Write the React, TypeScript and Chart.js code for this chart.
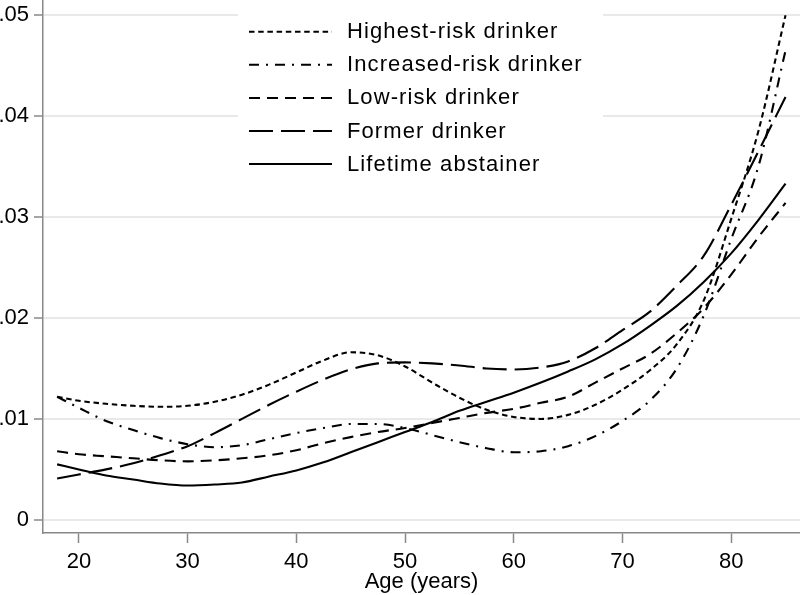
import React, { useEffect, useRef } from "react";
import { Chart, registerables } from "chart.js";

Chart.register(...registerables);

const ages = [18, 20, 22.5, 25, 27.5, 30, 32.5, 35, 37.5, 40, 42.5, 45, 47.5, 50, 52.5, 55, 57.5, 60, 62.5, 65, 67.5, 70, 72.5, 75, 77.5, 80, 82.5, 85];

const highestRisk = [0.0122, 0.0118, 0.0115, 0.0113, 0.0112, 0.0113, 0.0117, 0.0124, 0.0134, 0.0146, 0.0158, 0.0166, 0.0163, 0.0152, 0.0136, 0.0121, 0.0109, 0.0102, 0.0100, 0.0104, 0.0114, 0.0129, 0.0148, 0.0174, 0.0218, 0.0298, 0.0385, 0.0500];
const increasedRisk = [0.0122, 0.0111, 0.0098, 0.0089, 0.0081, 0.0075, 0.0072, 0.0074, 0.0080, 0.0086, 0.0091, 0.0095, 0.0095, 0.0091, 0.0084, 0.0077, 0.0071, 0.0067, 0.0068, 0.0073, 0.0083, 0.0098, 0.0118, 0.0150, 0.0203, 0.0278, 0.0350, 0.0465];
const lowRisk = [0.0068, 0.0065, 0.0063, 0.0061, 0.0059, 0.0058, 0.0059, 0.0061, 0.0064, 0.0069, 0.0076, 0.0082, 0.0087, 0.0091, 0.0096, 0.0101, 0.0106, 0.0110, 0.0116, 0.0122, 0.0136, 0.0150, 0.0164, 0.0185, 0.0210, 0.0243, 0.0280, 0.0314];
const formerDrinker = [0.0041, 0.0045, 0.0050, 0.0056, 0.0064, 0.0073, 0.0086, 0.0100, 0.0114, 0.0127, 0.0139, 0.0149, 0.0155, 0.0156, 0.0155, 0.0153, 0.0150, 0.0149, 0.0151, 0.0157, 0.0170, 0.0188, 0.0206, 0.0232, 0.0262, 0.0312, 0.0365, 0.0419];
const lifetimeAbstainer = [0.0055, 0.0050, 0.0044, 0.0040, 0.0036, 0.0034, 0.0035, 0.0037, 0.0043, 0.0049, 0.0057, 0.0067, 0.0077, 0.0087, 0.0097, 0.0108, 0.0117, 0.0126, 0.0136, 0.0147, 0.0159, 0.0174, 0.0192, 0.0212, 0.0236, 0.0264, 0.0297, 0.0333];

const seriesLabels = ["Highest-risk drinker", "Increased-risk drinker", "Low-risk drinker", "Former drinker", "Lifetime abstainer"];
const seriesValues = [highestRisk, increasedRisk, lowRisk, formerDrinker, lifetimeAbstainer];
const seriesDashes: number[][] = [[5.5, 3.7], [10, 7, 2, 7], [11, 7], [24, 8], []];

const xTicks = [20, 30, 40, 50, 60, 70, 80];
const yTicks = [0, 0.01, 0.02, 0.03, 0.04, 0.05];
const yTickLabels = ["0", ".01", ".02", ".03", ".04", ".05"];
const xTitle = "Age (years)";

const FONT = "'Liberation Sans', Arial, Helvetica, sans-serif";

const legendPlugin = {
  id: "insideLegend",
  afterDraw(chart: any) {
    const ctx = chart.ctx;
    ctx.save();
    ctx.fillStyle = "#ffffff";
    ctx.fillRect(238, 0, 365, 184);
    chart.data.datasets.forEach((ds: any, i: number) => {
      const y = 31.7 + i * 33.1;
      ctx.beginPath();
      ctx.strokeStyle = "#000";
      ctx.lineWidth = 2;
      ctx.setLineDash(ds.borderDash || []);
      ctx.moveTo(249, y);
      ctx.lineTo(332, y);
      ctx.stroke();
      ctx.setLineDash([]);
      ctx.fillStyle = "#000";
      ctx.font = `22px ${FONT}`;
      try { ctx.letterSpacing = "1.1px"; } catch (e) { /* ignore */ }
      ctx.textBaseline = "middle";
      ctx.textAlign = "left";
      ctx.fillText(ds.label, 347, y + 0.5);
      try { ctx.letterSpacing = "0px"; } catch (e) { /* ignore */ }
    });
    ctx.restore();
  },
};

export default function App() {
  const ref = useRef<HTMLCanvasElement | null>(null);
  useEffect(() => {
    if (!ref.current) return;
    const chart = new Chart(ref.current, {
      type: "line",
      data: {
        datasets: seriesLabels.map((label, i) => ({
          label,
          data: ages.map((a, j) => ({ x: a, y: seriesValues[i][j] })),
          borderColor: "#000",
          borderWidth: 2.1,
          borderDash: seriesDashes[i],
          pointRadius: 0,
          fill: false,
          cubicInterpolationMode: "monotone" as const,
        })),
      },
      options: {
        animation: false,
        responsive: true,
        maintainAspectRatio: false,
        layout: { padding: 0 },
        plugins: { legend: { display: false }, tooltip: { enabled: false } },
        scales: {
          x: {
            type: "linear",
            min: 16.7,
            max: 86.33,
            afterBuildTicks: (s: any) => { s.ticks = xTicks.map((v) => ({ value: v })); },
            afterFit: (s: any) => { s.height = 62; s.paddingLeft = 0; s.paddingRight = 0; },
            ticks: { color: "#000", font: { family: FONT, size: 22 }, padding: 6, maxRotation: 0, callback: (v: any) => String(v) },
            grid: { drawOnChartArea: false, drawTicks: true, tickLength: 10, tickColor: "#888", tickWidth: 1.5 },
            border: { color: "#888", width: 1.5 },
            title: { display: true, text: xTitle, color: "#000", font: { family: FONT, size: 22 }, padding: { top: 0, bottom: 0 } },
          },
          y: {
            type: "linear",
            min: -0.0013,
            max: 0.0515,
            afterBuildTicks: (s: any) => { s.ticks = yTicks.map((v) => ({ value: v })); },
            afterFit: (s: any) => { s.width = 43; s.paddingTop = 0; s.paddingBottom = 0; },
            ticks: {
              color: "#000",
              font: { family: FONT, size: 22 },
              padding: 5,
              callback: (v: any) => {
                const idx = yTicks.findIndex((t) => Math.abs(t - v) < 1e-9);
                return idx >= 0 ? yTickLabels[idx] : "";
              },
            },
            grid: { color: "#e9e9e9", lineWidth: 2, drawTicks: true, tickLength: 9, tickColor: "#888", tickWidth: 1.5 },
            border: { color: "#888", width: 1.5 },
          },
        },
      },
      plugins: [legendPlugin],
    });
    return () => chart.destroy();
  }, []);
  return (
    <div style={{ position: "fixed", left: 0, top: 0, width: 800, height: 595, background: "#fff" }}>
      <canvas ref={ref} />
    </div>
  );
}
